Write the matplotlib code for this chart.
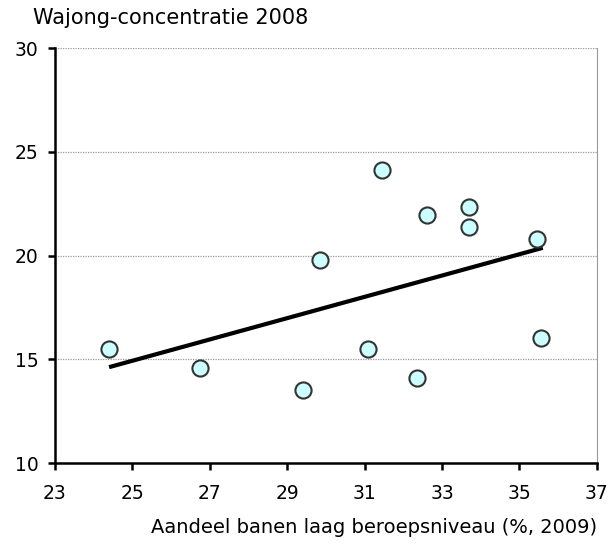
import matplotlib
matplotlib.use('Agg')
import matplotlib.pyplot as plt

# aandeel banen laag beroepsniveau (%, 2009) en wajong-concentratie 2008
aandeel = [24.4, 26.75, 29.4, 29.85, 31.1, 31.45, 32.35, 32.6, 33.7, 33.7, 35.45, 35.55]
wajong = [15.5, 14.6, 13.5, 19.8, 15.5, 24.15, 14.1, 21.95, 22.35, 21.4, 20.8, 16.05]

# trendlijn (begin- en eindpunt)
trend_x = [24.45, 35.55]
trend_y = [14.65, 20.35]

fig = plt.figure(figsize=(6.09, 5.48), dpi=100)
ax = fig.add_axes([0.0903, 0.155, 0.8897, 0.757])

ax.set_xlim(23, 37)
ax.set_ylim(10, 30)
ax.set_xticks(range(23, 38, 2))
ax.set_yticks(range(10, 31, 5))

ax.yaxis.grid(True, color='#999999', linestyle=(0, (1, 1)), linewidth=0.9)
ax.set_axisbelow(True)

ax.plot(trend_x, trend_y, color='black', linewidth=3, zorder=2)
ax.scatter(aandeel, wajong, s=135, facecolor='#CCFFFF', edgecolor='#333333',
           linewidths=1.5, zorder=3)

for s in ['left', 'bottom']:
    ax.spines[s].set_color('black')
    ax.spines[s].set_linewidth(1.8)
ax.spines['right'].set_color('#999999')
ax.spines['top'].set_visible(False)

ax.tick_params(axis='both', labelsize=13.5, width=1.8, length=5, direction='out')
ax.tick_params(axis='x', pad=10)
ax.tick_params(axis='y', pad=7)

fig.text(0.054, 0.968, 'Wajong-concentratie 2008', fontsize=15, va='center', ha='left')
fig.text(0.98, 0.037, 'Aandeel banen laag beroepsniveau (%, 2009)', fontsize=14,
         va='center', ha='right')

fig.savefig('out.png', dpi=100)
